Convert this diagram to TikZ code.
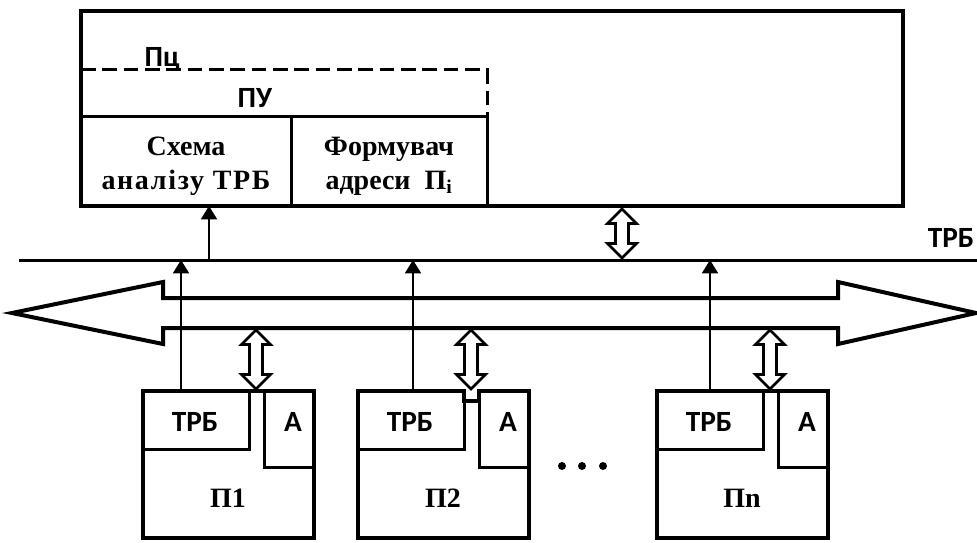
\documentclass[tikz,border=0pt]{standalone}
\usepackage{fontspec}
\setmainfont{Liberation Serif}
\newfontfamily\labelsans{Carlito}[BoldFont={Carlito Bold}]
\usetikzlibrary{arrows.meta}

\tikzset{
  frame/.style={line width=3pt},
  inner/.style={line width=2.25pt},
  sig/.style={line width=1.5pt,-{Triangle[width=12pt,length=10pt]}},
  pics/dblarrow/.style={code={
    \draw[line width=2pt,fill=white] (0,0) -- (14.5,14.5) -- (6.5,14.5)
      -- (6.5,#1-14.5) -- (14.5,#1-14.5) -- (0,#1) -- (-14.5,#1-14.5)
      -- (-6.5,#1-14.5) -- (-6.5,14.5) -- (-14.5,14.5) -- cycle;
  }},
  rmlbl/.style={font=\bfseries\fontsize{21}{25.5}\selectfont},
  sflbl/.style={font=\labelsans\bfseries\fontsize{22}{24}\selectfont},
}

\begin{document}
\begin{tikzpicture}[x=0.75pt,y=-0.75pt]
\useasboundingbox (0,0) rectangle (977,542);

% central processor
\draw[frame] (81,11) rectangle (903,206);
\node[sflbl,anchor=base] (pc) at (162,67) {Пц};
\draw[inner,dash pattern=on 11pt off 5pt] (81,70) -- (487,70) -- (487,116);
\node[sflbl,anchor=base] (pu) at (255,107) {ПУ};
\draw[inner] (81,116) -- (487,116) -- (487,206);
\draw[inner] (291,116) -- (291,206);
\node[rmlbl,align=center] (scheme) at (186,166)
  {Схема\\\addfontfeature{LetterSpace=6}аналізу ТРБ};
\node[rmlbl,align=center] (addr) at (389,166) {Формувач\\адреси\enspace П\textsubscript{i}};

% control bus
\coordinate (busL) at (19,260);
\coordinate (busR) at (977,260);
\draw[line width=2.25pt] (busL) -- (busR);
\node[sflbl,anchor=base] (trbbus) at (951,247) {ТРБ};
\coordinate (sch) at (209,206);
\draw[sig] (sch |- busL) -- (sch);
\pic (dtop) at (622,209) {dblarrow=49};

% data bus
\draw[frame] (12,313) -- (163,282) -- (163,298) -- (838,298) -- (838,282)
  -- (976,313) -- (838,344) -- (838,328) -- (163,328) -- (163,344) -- cycle;

% peripherals
\foreach \px/\k/\sx/\nt in {143/1/38/0, 358/2/55/10, 657/n/53/0}{
  \draw[frame] (\px,391) -- (\px+106,391) -- (\px+106,391+\nt) -- (\px+121,391+\nt)
    -- (\px+121,391) -- (\px+171,391) -- (\px+171,538) -- (\px,538) -- cycle;
  \draw[inner] (\px,391) rectangle (\px+106,449);
  \draw[inner] (\px+121,391) rectangle (\px+171,467);
  \node[sflbl,anchor=base] (trb\k) at (\px+52,431) {ТРБ};
  \node[sflbl,anchor=base] (a\k) at (\px+150,431) {А};
  \node[rmlbl,anchor=base] (p\k) at (\px+85,507) {П\k};
  \coordinate (s\k) at (\px+\sx,391);
  \draw[sig] (s\k) -- (s\k |- busL);
  \pic (d\k) at (\px+113,330) {dblarrow=59};
}
\foreach \dx in {562,582,603}
  \fill (\dx,466) circle (3pt);
\end{tikzpicture}
\end{document}
